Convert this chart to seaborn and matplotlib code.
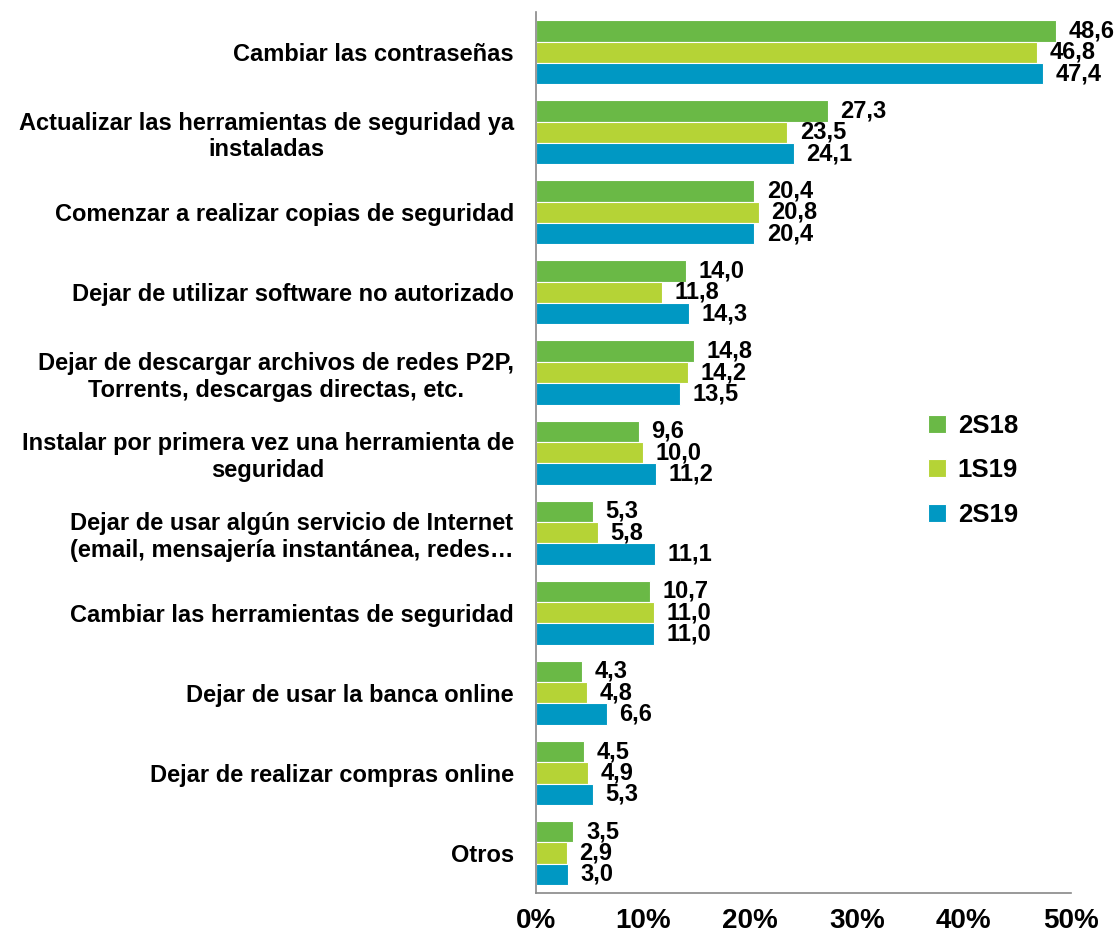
import pandas as pd
import matplotlib.pyplot as plt
import seaborn as sns
from matplotlib.ticker import FuncFormatter

categories = [
    "Cambiar las contraseñas",
    "Actualizar las herramientas de seguridad ya\ninstaladas",
    "Comenzar a realizar copias de seguridad",
    "Dejar de utilizar software no autorizado",
    "Dejar de descargar archivos de redes P2P,\nTorrents, descargas directas, etc.",
    "Instalar por primera vez una herramienta de\nseguridad",
    "Dejar de usar algún servicio de Internet\n(email, mensajería instantánea, redes…",
    "Cambiar las herramientas de seguridad",
    "Dejar de usar la banca online",
    "Dejar de realizar compras online",
    "Otros",
]
series = ["2S18", "1S19", "2S19"]
v_2s18 = [48.6, 27.3, 20.4, 14.0, 14.8, 9.6, 5.3, 10.7, 4.3, 4.5, 3.5]
v_1s19 = [46.8, 23.5, 20.8, 11.8, 14.2, 10.0, 5.8, 11.0, 4.8, 4.9, 2.9]
v_2s19 = [47.4, 24.1, 20.4, 14.3, 13.5, 11.2, 11.1, 11.0, 6.6, 5.3, 3.0]
colors = ["#6ab946", "#b5d336", "#0098c3"]

rows = []
for s, vals in zip(series, [v_2s18, v_1s19, v_2s19]):
    for c, v in zip(categories, vals):
        rows.append({"categoria": c, "serie": s, "valor": v})
df = pd.DataFrame(rows)

sns.set_style("white")
plt.rcParams["font.family"] = ["Liberation Sans", "DejaVu Sans"]
plt.rcParams["font.weight"] = "bold"
plt.rcParams["text.color"] = "black"
plt.rcParams["xtick.color"] = "black"
plt.rcParams["ytick.color"] = "black"

fig = plt.figure(figsize=(11.19, 9.39), dpi=100)
ax = fig.add_axes([0.479, 0.049, 0.478, 0.938])

sns.barplot(data=df, y="categoria", x="valor", hue="serie", order=categories,
            hue_order=series, palette=colors, orient="h", width=0.8,
            saturation=1, ax=ax, edgecolor="white", linewidth=0.8)

# etiquetas de valor con coma decimal
for cont in ax.containers:
    labels = [f"{b.get_width():.1f}".replace(".", ",") for b in cont]
    ax.bar_label(cont, labels=labels, padding=9, fontsize=17, fontweight="bold")

ax.set_xlim(0, 50)
ax.set_ylim(len(categories) - 0.5, -0.5)
ax.set_xticks([0, 10, 20, 30, 40, 50])
ax.xaxis.set_major_formatter(FuncFormatter(lambda x, p: f"{x:.0f}%"))
ax.tick_params(axis="x", labelsize=20, length=6, color="#888888", width=1.2, pad=5)
ax.set_yticks(range(len(categories)))
ax.set_yticklabels(categories, fontsize=17, fontweight="bold")
ax.tick_params(axis="y", length=0, pad=16)
ax.set_yticks([i - 0.5 for i in range(len(categories) + 1)], minor=True)
ax.tick_params(axis="y", which="minor", length=5, color="#888888", width=1.2)
for lab in ax.get_xticklabels():
    lab.set_fontweight("bold")
for lab in ax.get_yticklabels():
    lab.set_multialignment("center")

ax.set_xlabel("")
ax.set_ylabel("")
for side in ["top", "right"]:
    ax.spines[side].set_visible(False)
for side in ["left", "bottom"]:
    ax.spines[side].set_color("#888888")
    ax.spines[side].set_linewidth(1.2)

ax.legend(loc="center left", bbox_to_anchor=(0.69, 0.48), frameon=False,
          handlelength=0.7, handleheight=0.7, labelspacing=0.8, handletextpad=0.45,
          prop={"weight": "bold", "size": 18.5})

fig.savefig("out.png", dpi=100)
